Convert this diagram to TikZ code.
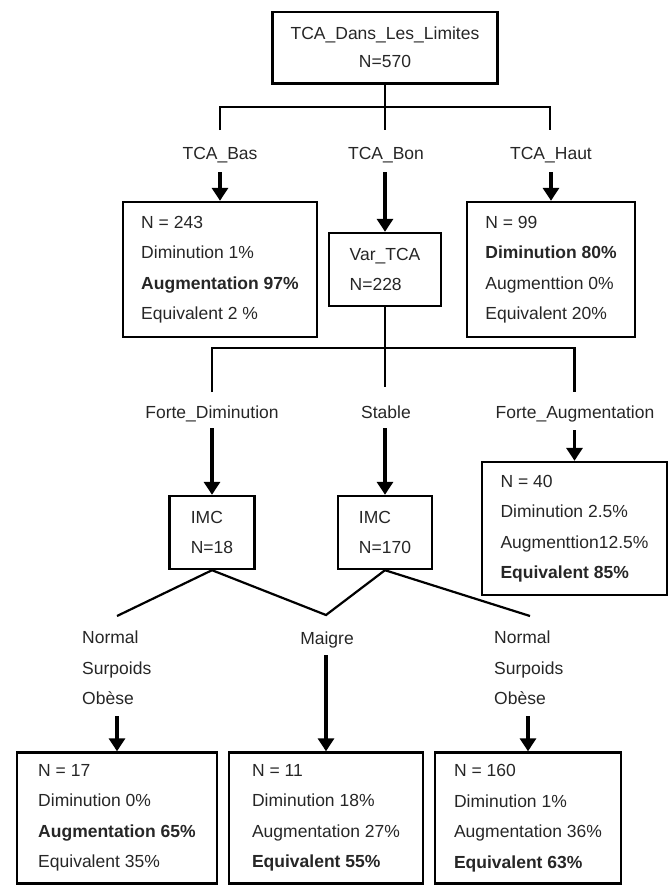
\documentclass[tikz,border=0pt]{standalone}
\usepackage{fontspec}
\setmainfont{Liberation Sans}
\usetikzlibrary{arrows.meta}
\begin{document}
\begin{tikzpicture}[x=1pt,y=-1pt,
  box/.style={draw, line width=2.4pt, inner sep=0pt, align=left,
    font=\fontsize{17.5}{30.5}\selectfont, text=black!85},
  lbl/.style={inner sep=0pt, font=\fontsize{17.5}{30.5}\selectfont, text=black!85},
  ln/.style={line width=2.2pt},
  arr/.style={line width=3.5pt, -{Triangle[length=13pt,width=16pt]}}]
\useasboundingbox (0,0) rectangle (668,886);

% ---------- level 0
\node[box, align=center, minimum width=225pt, minimum height=71.6pt,
  font=\fontsize{17.5}{28}\selectfont] (top) at (385,47.5)
  {TCA\_Dans\_Les\_Limites\\N=570};

\coordinate (t1) at (220,130);
\coordinate (t2) at (385,130);
\coordinate (t3) at (550,130);
\coordinate (j1) at (220,107);
\coordinate (j3) at (550,107);
\draw[ln] (top) -- (t2);
\draw[ln] (t1) -- (j1) -- (j3) -- (t3);

\node[lbl, anchor=base] (lbas) at (220,159.3) {TCA\_Bas};
\node[lbl, anchor=base] (lbon) at (386,159.3) {TCA\_Bon};
\node[lbl, anchor=base] (lhaut) at (551,159.3) {TCA\_Haut};

% ---------- level 1
\node[box, minimum width=194pt, minimum height=135pt] (bas) at (220,269.5)
  {N = 243\\Diminution 1\%\\\textbf{Augmentation 97\%}\\Equivalent 2 \%};
\node[box, minimum width=112pt, minimum height=73pt] (var) at (385,269.5)
  {Var\_TCA\\N=228};
\node[box, minimum width=168pt, minimum height=135pt] (haut) at (551,269.5)
  {N = 99\\\textbf{Diminution 80\%}\\Augmenttion 0\%\\Equivalent 20\%};

\coordinate (a1) at (220,172);
\coordinate (a2) at (385,172);
\coordinate (a3) at (551,172);
\draw[arr] (a1) -- (bas.north);
\draw[arr] (a2) -- (var.north);
\draw[arr] (a3) -- (haut.north);

% ---------- level 2 tree
\coordinate (m2) at (385,387);
\coordinate (u1) at (212,392);
\coordinate (u3) at (574.5,392);
\coordinate (k1) at (212,348);
\coordinate (k3) at (574.5,348);
\draw[ln] (var) -- (m2);
\draw[ln] (u1) -- (k1) -- (k3) -- (u3);

\node[lbl, anchor=base] (lfd) at (212,418.3) {Forte\_Diminution};
\node[lbl, anchor=base] (lst) at (386,418.3) {Stable};
\node[lbl, anchor=base] (lfa) at (575,418.3) {Forte\_Augmentation};

\node[box, minimum width=85pt, minimum height=73pt] (imc1) at (212,532.5)
  {IMC\\N=18};
\node[box, minimum width=94pt, minimum height=73pt] (imc2) at (385,532.5)
  {IMC\\N=170};
\node[box, minimum width=185.5pt, minimum height=133pt] (n40) at (574.5,528.5)
  {N = 40\\Diminution 2.5\%\\Augmenttion12.5\%\\\textbf{Equivalent 85\%}};

\coordinate (b1) at (212,428);
\coordinate (b2) at (385,428);
\coordinate (b3) at (574.5,430);
\draw[arr] (b1) -- (imc1.north);
\draw[arr] (b2) -- (imc2.north);
\draw[arr] (b3) -- (n40.north);

% ---------- level 3
\coordinate (d1) at (117,616);
\coordinate (d2) at (326,615);
\coordinate (d3) at (530,616);
\draw[ln] (d1) -- (imc1.south) -- (d2) -- (imc2.south) -- (d3);

\node[lbl, anchor=west, align=left] (g1) at (82,668) {Normal\\Surpoids\\Obèse};
\node[lbl, anchor=base] (gm) at (327,644.3) {Maigre};
\node[lbl, anchor=west, align=left] (g3) at (494,668) {Normal\\Surpoids\\Obèse};

\node[box, minimum width=200pt, minimum height=131pt] (f1) at (117,818)
  {N = 17\\Diminution 0\%\\\textbf{Augmentation 65\%}\\Equivalent 35\%};
\node[box, minimum width=194pt, minimum height=131pt] (f2) at (326,818)
  {N = 11\\Diminution 18\%\\Augmentation 27\%\\\textbf{Equivalent 55\%}};
\node[box, minimum width=186pt, minimum height=131pt] (f3) at (528,818)
  {N = 160\\Diminution 1\%\\Augmentation 36\%\\\textbf{Equivalent 63\%}};

\coordinate (c1) at (117,716);
\coordinate (c2) at (326,655);
\coordinate (c3) at (528,716);
\draw[arr] (c1) -- (f1.north);
\draw[arr] (c2) -- (f2.north);
\draw[arr] (c3) -- (f3.north);
\end{tikzpicture}
\end{document}
